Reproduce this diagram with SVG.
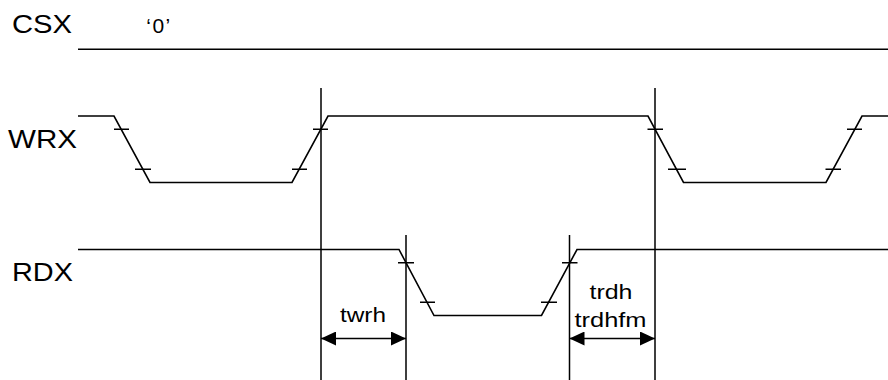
<svg xmlns="http://www.w3.org/2000/svg" width="888" height="380" viewBox="0 0 888 380">
<defs>
<style>
.sig{fill:none;stroke:#000;stroke-width:1.6;stroke-linejoin:miter}
.tick{stroke:#000;stroke-width:1.4}
.guide{stroke:#000;stroke-width:1.5}
.dim{stroke:#000;stroke-width:1.5;marker-start:url(#ah);marker-end:url(#ah)}
.lbl{font-family:"Liberation Sans",Arial,sans-serif;font-size:25px;fill:#000}
.sm{font-family:"Liberation Sans",Arial,sans-serif;font-size:20px;fill:#000;text-anchor:middle}
</style>
<marker id="ah" viewBox="0 0 15 14" refX="15" refY="7" markerWidth="15" markerHeight="14" markerUnits="userSpaceOnUse" orient="auto-start-reverse">
<path d="M0,0 L15,7 L0,14 Z" fill="#000"/>
</marker>
</defs>
<g id="labels">
<text class="lbl" x="12" y="33.3" textLength="60" lengthAdjust="spacingAndGlyphs">CSX</text>
<text class="lbl" x="8" y="148" textLength="69" lengthAdjust="spacingAndGlyphs">WRX</text>
<text class="lbl" x="12" y="280.7" textLength="61" lengthAdjust="spacingAndGlyphs">RDX</text>
<text class="sm" x="159" y="33" style="font-size:21px;letter-spacing:1.5px">‘0’</text>
</g>
<g id="CSX"><path class="sig" d="M78,49.3 H888"/></g>
<g id="WRX">
<path class="sig" d="M78,116 H114 L150,182.5 H292 L328,116 H648 L683.5,182.5 H826 L862,116 H888"/>
<path class="tick" d="M114,129.3 H129 M135,169.3 H151 M292,169.3 H307 M313,129.3 H328 M647.5,129.3 H663 M668,169.3 H686 M825.5,169.3 H841 M847,129.3 H862"/>
</g>
<g id="RDX">
<path class="sig" d="M78,249.5 H399 L434,315.5 H541.5 L577,249.5 H888"/>
<path class="tick" d="M398,262.7 H414 M420,302.3 H435 M541,302.3 H557 M562,262.7 H577.5"/>
</g>
<g id="connectors">
<path class="guide" d="M321,88 V380 M406,235 V380 M569.5,235 V380 M655,88 V380"/>
<path class="dim" d="M321,338.5 H406"/>
<path class="dim" d="M569.5,338.5 H655"/>
</g>
<g id="twrh"><text class="sm" x="363" y="321.7" textLength="46" lengthAdjust="spacingAndGlyphs">twrh</text></g>
<g id="trdh">
<text class="sm" x="611" y="299.3" textLength="43" lengthAdjust="spacingAndGlyphs">trdh</text>
<text class="sm" x="610.5" y="326.7" textLength="72" lengthAdjust="spacingAndGlyphs">trdhfm</text>
</g>
</svg>
